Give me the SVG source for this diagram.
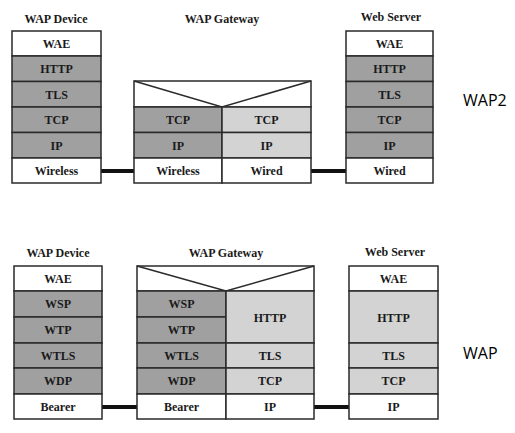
<svg xmlns="http://www.w3.org/2000/svg" width="515" height="433" viewBox="0 0 515 433">
<style>
.w{fill:#ffffff;stroke:#2a2a2a;stroke-width:1.5}
.d{fill:#a0a0a0;stroke:#2a2a2a;stroke-width:1.5}
.l{fill:#d3d3d3;stroke:#2a2a2a;stroke-width:1.5}
.t{font-family:"Liberation Serif",serif;font-weight:bold;font-size:12px;fill:#1a1a1a;text-anchor:middle;dominant-baseline:central}
.h{font-family:"Liberation Serif",serif;font-weight:bold;font-size:12px;fill:#1a1a1a;text-anchor:middle}
.s{font-family:"Open Sans","Liberation Sans",sans-serif;font-size:16px;fill:#000;text-anchor:start;dominant-baseline:central}
.v{fill:none;stroke:#2a2a2a;stroke-width:1.5}
.c{stroke:#111;stroke-width:4;fill:none}
</style>
<rect width="515" height="433" fill="#ffffff"/>
<g id="connectors">
<line class="c" x1="101" y1="171" x2="134" y2="171"/>
<line class="c" x1="311" y1="171" x2="346" y2="171"/>
<line class="c" x1="102" y1="407" x2="137" y2="407"/>
<line class="c" x1="314" y1="407" x2="349" y2="407"/>
</g>
<g id="wap2-device">
<text class="h" x="56" y="23">WAP Device</text>
<rect class="w" x="12" y="31" width="89" height="25"/><text class="t" x="56.5" y="44">WAE</text>
<rect class="d" x="12" y="56" width="89" height="25.5"/><text class="t" x="56.5" y="69">HTTP</text>
<rect class="d" x="12" y="81.5" width="89" height="25.5"/><text class="t" x="56.5" y="94.5">TLS</text>
<rect class="d" x="12" y="107" width="89" height="25.5"/><text class="t" x="56.5" y="120">TCP</text>
<rect class="d" x="12" y="132.5" width="89" height="25.5"/><text class="t" x="56.5" y="145.5">IP</text>
<rect class="w" x="12" y="158" width="89" height="25"/><text class="t" x="56.5" y="171">Wireless</text>
</g>
<g id="wap2-gateway">
<text class="h" x="222" y="23">WAP Gateway</text>
<rect class="w" x="134" y="81" width="177" height="26"/>
<polyline class="v" points="134,81 222,107 311,81"/>
<rect class="d" x="134" y="107" width="88" height="25.5"/><text class="t" x="178" y="120">TCP</text>
<rect class="d" x="134" y="132.5" width="88" height="25.5"/><text class="t" x="178" y="145.5">IP</text>
<rect class="w" x="134" y="158" width="88" height="25"/><text class="t" x="178" y="171">Wireless</text>
<rect class="l" x="222" y="107" width="89" height="25.5"/><text class="t" x="266.5" y="120">TCP</text>
<rect class="l" x="222" y="132.5" width="89" height="25.5"/><text class="t" x="266.5" y="145.5">IP</text>
<rect class="w" x="222" y="158" width="89" height="25"/><text class="t" x="266.5" y="171">Wired</text>
</g>
<g id="wap2-server">
<text class="h" x="391" y="21">Web Server</text>
<rect class="w" x="346" y="31" width="87" height="25"/><text class="t" x="389.5" y="44">WAE</text>
<rect class="d" x="346" y="56" width="87" height="25.5"/><text class="t" x="389.5" y="69">HTTP</text>
<rect class="d" x="346" y="81.5" width="87" height="25.5"/><text class="t" x="389.5" y="94.5">TLS</text>
<rect class="d" x="346" y="107" width="87" height="25.5"/><text class="t" x="389.5" y="120">TCP</text>
<rect class="d" x="346" y="132.5" width="87" height="25.5"/><text class="t" x="389.5" y="145.5">IP</text>
<rect class="w" x="346" y="158" width="87" height="25"/><text class="t" x="389.5" y="171">Wired</text>
</g>
<text class="s" x="463" y="100">WAP2</text>
<g id="wap-device">
<text class="h" x="58" y="257">WAP Device</text>
<rect class="w" x="14" y="266" width="88" height="25"/><text class="t" x="58" y="279">WAE</text>
<rect class="d" x="14" y="291" width="88" height="26"/><text class="t" x="58" y="304">WSP</text>
<rect class="d" x="14" y="317" width="88" height="26"/><text class="t" x="58" y="330">WTP</text>
<rect class="d" x="14" y="343" width="88" height="25"/><text class="t" x="58" y="356">WTLS</text>
<rect class="d" x="14" y="368" width="88" height="26"/><text class="t" x="58" y="381">WDP</text>
<rect class="w" x="14" y="394" width="88" height="25"/><text class="t" x="58" y="407">Bearer</text>
</g>
<g id="wap-gateway">
<text class="h" x="226" y="257">WAP Gateway</text>
<rect class="w" x="137" y="266" width="177" height="25"/>
<polyline class="v" points="137,266 226,291 314,266"/>
<rect class="d" x="137" y="291" width="89" height="26"/><text class="t" x="181.5" y="304">WSP</text>
<rect class="d" x="137" y="317" width="89" height="26"/><text class="t" x="181.5" y="330">WTP</text>
<rect class="d" x="137" y="343" width="89" height="25"/><text class="t" x="181.5" y="356">WTLS</text>
<rect class="d" x="137" y="368" width="89" height="26"/><text class="t" x="181.5" y="381">WDP</text>
<rect class="w" x="137" y="394" width="89" height="25"/><text class="t" x="181.5" y="407">Bearer</text>
<rect class="l" x="226" y="291" width="88" height="52"/><text class="t" x="270" y="318">HTTP</text>
<rect class="l" x="226" y="343" width="88" height="25"/><text class="t" x="270" y="356">TLS</text>
<rect class="l" x="226" y="368" width="88" height="26"/><text class="t" x="270" y="381">TCP</text>
<rect class="w" x="226" y="394" width="88" height="25"/><text class="t" x="270" y="407">IP</text>
</g>
<g id="wap-server">
<text class="h" x="395" y="256">Web Server</text>
<rect class="w" x="349" y="266" width="89" height="25"/><text class="t" x="393.5" y="279">WAE</text>
<rect class="l" x="349" y="291" width="89" height="52"/><text class="t" x="393.5" y="318">HTTP</text>
<rect class="l" x="349" y="343" width="89" height="25"/><text class="t" x="393.5" y="356">TLS</text>
<rect class="l" x="349" y="368" width="89" height="26"/><text class="t" x="393.5" y="381">TCP</text>
<rect class="w" x="349" y="394" width="89" height="25"/><text class="t" x="393.5" y="407">IP</text>
</g>
<text class="s" x="463" y="353">WAP</text>
</svg>
